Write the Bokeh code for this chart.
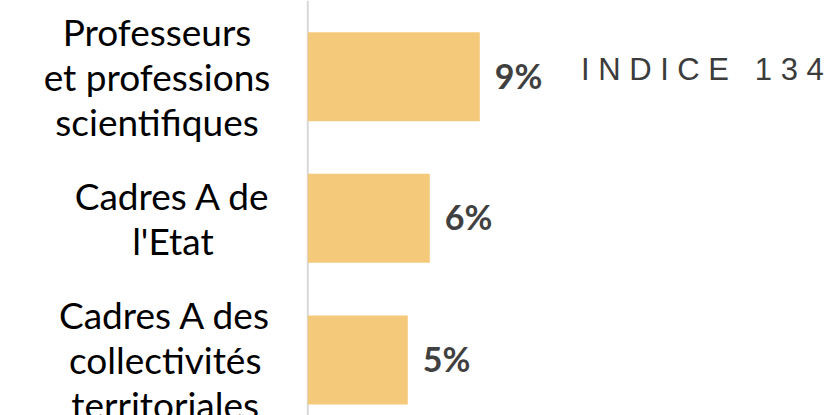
from bokeh.plotting import figure
from bokeh.models import ColumnDataSource, Range1d, Span
from bokeh.core.properties import value
from bokeh.embed import file_html
from bokeh.resources import INLINE

# ---- data ----
categories = [
    "Professeurs\net professions\nscientifiques",
    "Cadres A de\nl'Etat",
    "Cadres A des\ncollectivités\nterritoriales",
]
values = [8.6, 6.1, 5.0]
value_labels = [f"{round(v)}%" for v in values]
positions = [2, 1, 0]
annotation_text = "\u00a0".join("INDICE") + "\u00a0\u00a0\u00a0" + "\u00a0".join("134")

# ---- layout (pixels) ----
label_centers_px = [-150.8, -134.9, -142.6]

src = ColumnDataSource(dict(
    y=positions, v=values, vl=value_labels, cat=categories, lx=label_centers_px,
))

W, H = 826, 415
p = figure(width=W, height=H, output_backend="svg", toolbar_location=None,
           x_range=Range1d(-15.365, -15.365 + W / 20.0),
           y_range=Range1d(2 + 76.2 / 141.65 - H / 141.65, 2 + 76.2 / 141.65),
           min_border=0, outline_line_color=None)
p.axis.visible = False
p.grid.visible = False
p.background_fill_color = "white"
p.border_fill_color = "white"

p.add_layout(Span(location=0, dimension="height", line_color="#d9d9d9",
                  line_width=2, level="underlay"))

p.hbar(y="y", left=0, right="v", height=0.628, source=src,
       fill_color="#F4CA7A", line_color=None)

p.text(x="v", y="y", text="vl", source=src, x_offset=15, y_offset=-1.5,
       text_font=value("Lato"), text_font_style="bold", text_font_size="34px",
       text_color="#404040", text_align="left", text_baseline="middle")

p.text(x=0, y="y", text="cat", source=src, x_offset="lx", y_offset=-0.5,
       text_font=value("Lato"), text_font_size="37px", text_color="#000000",
       text_align="center", text_baseline="middle", text_line_height=1.0)

p.text(x=[0], y=[positions[0]], text=[annotation_text], x_offset=273.1, y_offset=-7,
       text_font=value("Liberation Sans"), text_font_size="31px",
       text_color="#3c3c3c", text_align="left", text_baseline="middle")

open("out.html", "w").write(file_html(p, INLINE))
